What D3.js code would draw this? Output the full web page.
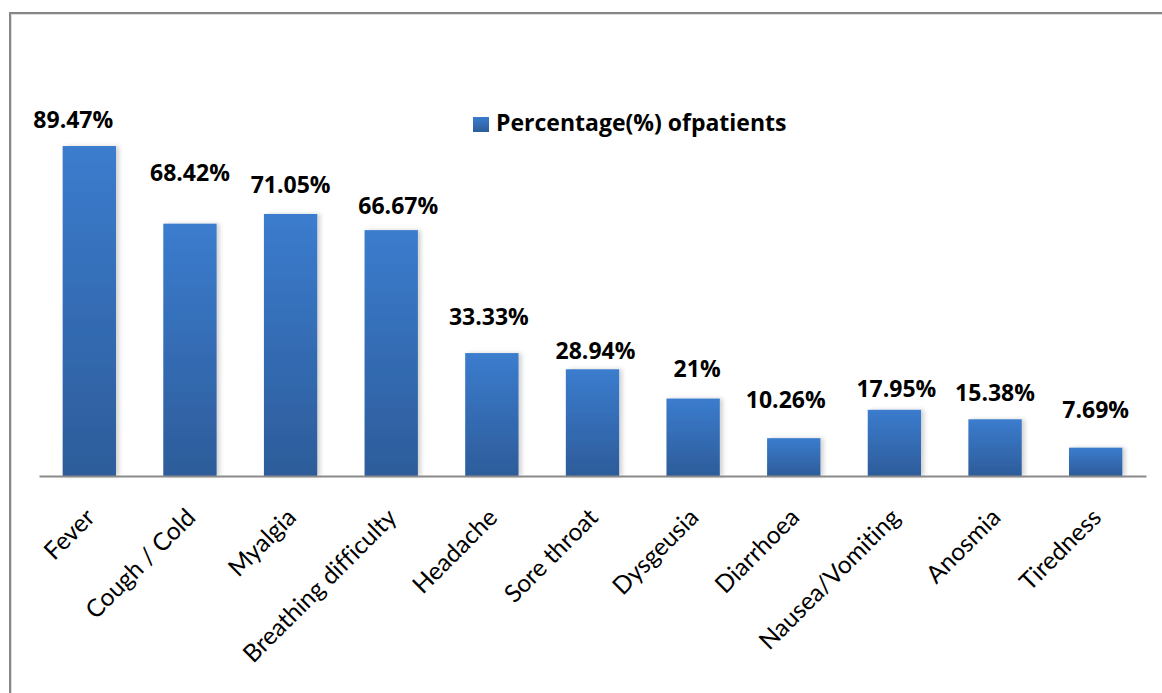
<!DOCTYPE html>
<html>
<head>
<meta charset="utf-8">
<script src="https://cdn.jsdelivr.net/npm/d3@7"></script>
<style>
  html, body { margin: 0; padding: 0; background: #fff; }
  svg { display: block; }
  text { font-variant-ligatures: none; }
</style>
</head>
<body>
<svg id="chart" width="1162" height="693"></svg>
<script>
// Symptoms reported and the share of patients with each
const symptoms = ["Fever", "Cough / Cold", "Myalgia", "Breathing difficulty", "Headache",
  "Sore throat", "Dysgeusia", "Diarrhoea", "Nausea/Vomiting", "Anosmia", "Tiredness"];
const percentages = [89.47, 68.42, 71.05, 66.67, 33.33, 28.94, 21, 10.26, 17.95, 15.38, 7.69];
const valueLabels = ["89.47%", "68.42%", "71.05%", "66.67%", "33.33%", "28.94%", "21%",
  "10.26%", "17.95%", "15.38%", "7.69%"];
const seriesName = "Percentage(%) ofpatients";

const svg = d3.select("#chart");
const W = 1162, H = 693;
const axisY = 476;

// hand-placed data-label offsets: [dx from bar centre, gap from baseline to bar top]
const labelNudge = [[-16, 18], [0, 43], [0, 21], [7, 16], [-3, 28], [3, 10],
  [4, 22], [-8, 30], [2, 13], [0, 18], [0, 30]];

const x = d3.scaleBand()
  .domain(symptoms)
  .range([39, 1146])
  .paddingInner(0.47)
  .paddingOuter(0.235);

const y = d3.scaleLinear()
  .domain([0, 100])
  .range([axisY, 107.2]);

const defs = svg.append("defs");
const grad = defs.append("linearGradient")
  .attr("id", "barFill")
  .attr("x1", 0).attr("y1", 0).attr("x2", 0).attr("y2", 1);
grad.append("stop").attr("offset", "0%").attr("stop-color", "#3b7cce");
grad.append("stop").attr("offset", "100%").attr("stop-color", "#2d5c9a");

const shadow = defs.append("filter")
  .attr("id", "barShadow")
  .attr("x", "-20%").attr("y", "-10%").attr("width", "150%").attr("height", "120%");
shadow.append("feDropShadow")
  .attr("dx", 3).attr("dy", 0).attr("stdDeviation", 2)
  .attr("flood-color", "#000").attr("flood-opacity", 0.18);

// chart frame
svg.append("rect")
  .attr("x", 10).attr("y", 13)
  .attr("width", W + 20).attr("height", H + 20)
  .attr("fill", "none")
  .attr("stroke", "#878787")
  .attr("stroke-width", 2);
svg.append("rect")
  .attr("x", 11.5).attr("y", 14.5)
  .attr("width", W + 20).attr("height", H + 20)
  .attr("fill", "none")
  .attr("stroke", "#dedede")
  .attr("stroke-width", 1);

// bars
svg.append("g")
  .selectAll("rect")
  .data(symptoms)
  .join("rect")
  .attr("x", d => x(d))
  .attr("y", (d, i) => y(percentages[i]))
  .attr("width", x.bandwidth())
  .attr("height", (d, i) => axisY - y(percentages[i]))
  .attr("fill", "url(#barFill)")
  .attr("filter", "url(#barShadow)");

// category axis
const xAxis = d3.axisBottom(x).tickSize(0).tickPadding(0);
const gx = svg.append("g")
  .attr("transform", `translate(0,${axisY})`)
  .call(xAxis);
gx.select(".domain")
  .attr("stroke", "#8a8a8a")
  .attr("stroke-width", 2);
gx.selectAll(".tick text")
  .attr("font-family", "Lato, 'Open Sans', sans-serif")
  .attr("font-size", 24.5)
  .attr("fill", "#000")
  .attr("text-anchor", "end")
  .attr("dy", null)
  .attr("y", 0)
  .attr("transform", "translate(7,43) rotate(-45)");

// value labels
svg.append("g")
  .selectAll("text")
  .data(symptoms)
  .join("text")
  .attr("x", (d, i) => x(d) + x.bandwidth() / 2 + labelNudge[i][0])
  .attr("y", (d, i) => y(percentages[i]) - labelNudge[i][1])
  .attr("text-anchor", "middle")
  .attr("font-family", "'Open Sans', Lato, sans-serif")
  .attr("font-weight", "bold")
  .attr("font-size", 23)
  .attr("fill", "#000")
  .text((d, i) => valueLabels[i]);

// legend
const legend = svg.append("g").attr("transform", "translate(473,117)");
legend.append("rect")
  .attr("width", 16).attr("height", 15)
  .attr("fill", "url(#barFill)");
legend.append("text")
  .attr("x", 23).attr("y", 14)
  .attr("font-family", "'Open Sans', Lato, sans-serif")
  .attr("font-weight", "bold")
  .attr("font-size", 23)
  .attr("fill", "#000")
  .text(seriesName);
</script>
</body>
</html>
